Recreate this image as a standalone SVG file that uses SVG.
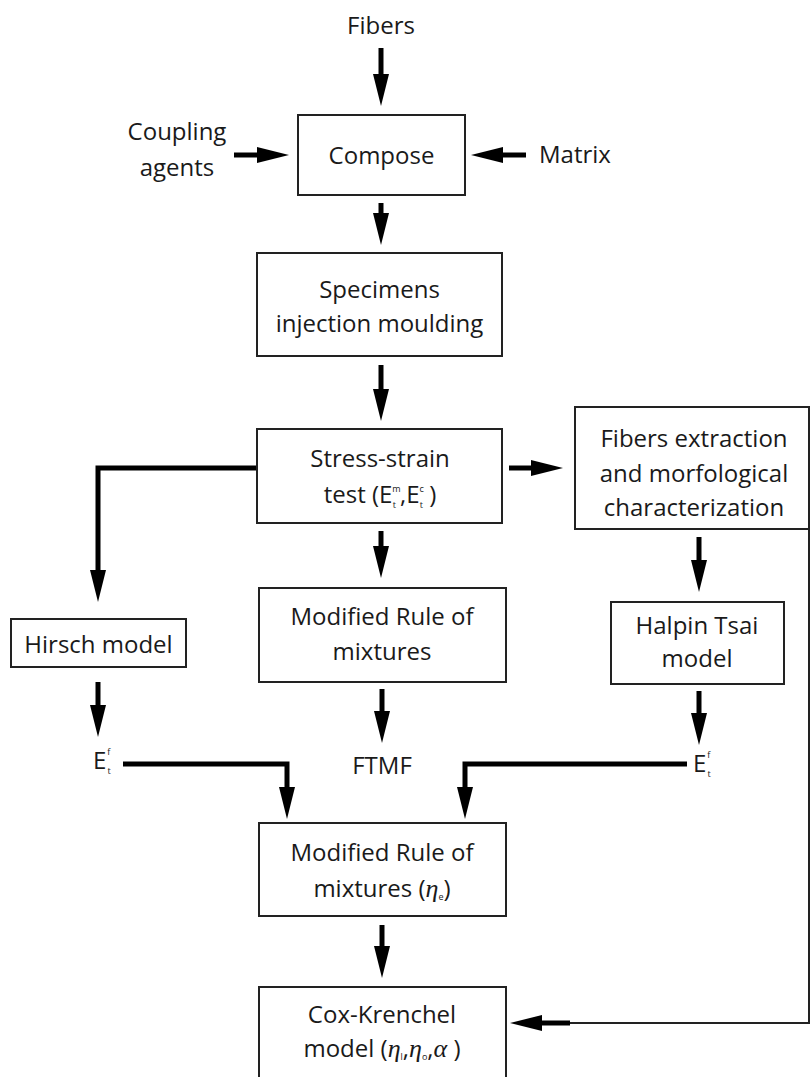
<svg xmlns="http://www.w3.org/2000/svg" width="811" height="1077" viewBox="0 0 811 1077">
<style>
.t{font-family:"Open Sans","Liberation Sans",sans-serif;font-size:24px;fill:#1a1a1a;text-anchor:middle}
.s{font-size:9px}
.g{font-family:"Liberation Serif",serif;font-style:italic;font-size:26px}
.box{fill:#fff;stroke:#222;stroke-width:2}
.c{fill:none;stroke:#000;stroke-width:5}
.thin{fill:none;stroke:#222;stroke-width:2}
</style>
<defs>
<marker id="ah" viewBox="0 0 32 16" markerWidth="32" markerHeight="16" refX="8" refY="8" orient="auto" markerUnits="userSpaceOnUse">
<path d="M0,0 L32,8 L0,16 z" fill="#000"/>
</marker>
</defs>
<rect width="811" height="1077" fill="#fff"/>

<g id="connectors">
<path class="c" d="M381,48 V82" marker-end="url(#ah)"/>
<path class="c" d="M234,155 H265" marker-end="url(#ah)"/>
<path class="c" d="M526,155 H495" marker-end="url(#ah)"/>
<path class="c" d="M381,203 V221" marker-end="url(#ah)"/>
<path class="c" d="M381,365 V397" marker-end="url(#ah)"/>
<path class="c" d="M381,531 V554" marker-end="url(#ah)"/>
<path class="c" d="M382,689 V719" marker-end="url(#ah)"/>
<path class="c" d="M382,925 V954" marker-end="url(#ah)"/>
<path class="c" d="M257,468 H98 V578" marker-end="url(#ah)"/>
<path class="c" d="M98,682 V713" marker-end="url(#ah)"/>
<path class="c" d="M123,764 H287 V795" marker-end="url(#ah)"/>
<path class="c" d="M687,764 H465 V795" marker-end="url(#ah)"/>
<path class="c" d="M509,468 H539" marker-end="url(#ah)"/>
<path class="c" d="M699,537 V568" marker-end="url(#ah)"/>
<path class="c" d="M699,691 V721" marker-end="url(#ah)"/>
<path class="thin" d="M809,529 V1023 H560"/>
<path class="c" d="M570,1023 H534" marker-end="url(#ah)"/>
</g>

<g id="fibers"><text class="t" x="381" y="34">Fibers</text></g>
<g id="coupling"><text class="t" x="177" y="140">Coupling</text><text class="t" x="177" y="176">agents</text></g>
<g id="matrix"><text class="t" x="539" y="163" style="text-anchor:start">Matrix</text></g>

<g id="compose"><rect class="box" x="298" y="115" width="167" height="80"/><text class="t" x="381.5" y="164">Compose</text></g>

<g id="specimens"><rect class="box" x="257" y="253" width="245" height="103"/><text class="t" x="379.5" y="298">Specimens</text><text class="t" x="379.5" y="332">injection moulding</text></g>

<g id="stress"><rect class="box" x="257" y="429" width="245" height="94"/><text class="t" x="380" y="467">Stress-strain</text>
<text class="t" x="380" y="503">test (E<tspan class="s" dy="-11">m</tspan><tspan class="s" dx="-8" dy="16">t</tspan><tspan dx="4" dy="-5">,E</tspan><tspan class="s" dy="-11">c</tspan><tspan class="s" dx="-4" dy="16">t</tspan><tspan dy="-5"> )</tspan></text></g>

<g id="extraction"><rect class="box" x="575" y="407" width="234" height="122"/><text class="t" x="694" y="447">Fibers extraction</text><text class="t" x="694" y="482">and morfological</text><text class="t" x="694" y="516">characterization</text></g>

<g id="hirsch"><rect class="box" x="11" y="619" width="175" height="48"/><text class="t" x="98.5" y="653">Hirsch model</text></g>

<g id="modified"><rect class="box" x="259" y="588" width="247" height="94"/><text class="t" x="382" y="625">Modified Rule of</text><text class="t" x="382" y="660">mixtures</text></g>

<g id="halpin"><rect class="box" x="611" y="602" width="173" height="82"/><text class="t" x="697" y="634">Halpin Tsai</text><text class="t" x="697" y="667">model</text></g>

<g id="ef-left"><text class="t" x="93" y="769" style="text-anchor:start">E<tspan class="s" dx="1" dy="-14">f</tspan><tspan class="s" dx="-3" dy="19">t</tspan></text></g>
<g id="ftmf"><text class="t" x="382" y="774">FTMF</text></g>
<g id="ef-right"><text class="t" x="693" y="772" style="text-anchor:start">E<tspan class="s" dx="1" dy="-14">f</tspan><tspan class="s" dx="-3" dy="19">t</tspan></text></g>

<g id="modified-eta"><rect class="box" x="259" y="823" width="247" height="93"/><text class="t" x="382" y="861">Modified Rule of</text><text class="t" x="382" y="897">mixtures (<tspan class="g">η</tspan><tspan class="s" dy="3">e</tspan><tspan dy="-3">)</tspan></text></g>

<g id="cox"><rect class="box" x="259" y="987" width="247" height="120"/><text class="t" x="382" y="1023">Cox-Krenchel</text><text class="t" x="382" y="1057">model (<tspan class="g">η</tspan><tspan class="s" dy="3">l</tspan><tspan dy="-3">,</tspan><tspan class="g">η</tspan><tspan class="s" dy="3">o</tspan><tspan dy="-3">,</tspan><tspan class="g">α</tspan> )</text></g>
</svg>
